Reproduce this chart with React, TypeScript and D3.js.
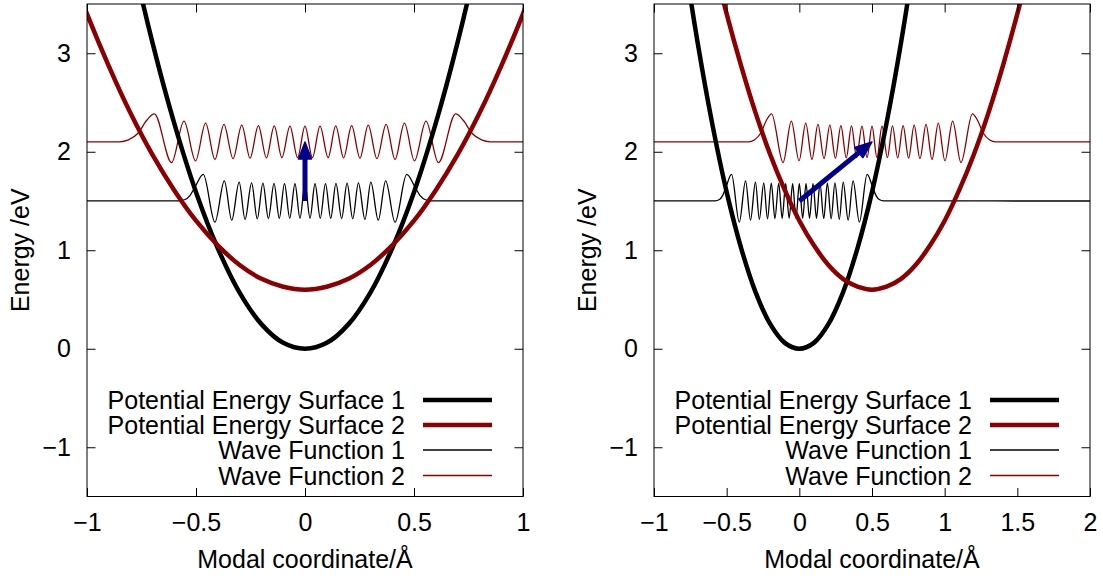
import React, { useEffect, useRef } from 'react'
import * as d3 from 'd3'

const W = 1103
const H = 578

// two panels side by side, same energy axis
const panelLeft = [87, 654]
const panelRight = [523, 1090]
const plotTop = 4
const plotBottom = 496.5
const xDomains = [
     [-1, 1],
     [-1, 2],
]
const xTicks = [
     [-1, -0.5, 0, 0.5, 1],
     [-1, -0.5, 0, 0.5, 1, 1.5, 2],
]
const yDomain = [-1.5, 3.5]
const yTicks = [-1, 0, 1, 2, 3]
// displacement of surface 2 (and its wave function) in each panel
const surface2Shift = [0, 0.5]

// potential energy surfaces, x relative to the minimum of each well
const pesX = [
     -1.1, -1.0, -0.9, -0.8, -0.7, -0.6, -0.5, -0.4, -0.3, -0.2, -0.1, 0, 0.1,
     0.2, 0.3, 0.4, 0.5, 0.6, 0.7, 0.8, 0.9, 1.0, 1.1,
]
const pes1E = [
     7.68, 6.35, 5.14, 4.06, 3.11, 2.29, 1.59, 1.02, 0.57, 0.25, 0.06, 0, 0.06,
     0.25, 0.57, 1.02, 1.59, 2.29, 3.11, 4.06, 5.14, 6.35, 7.68,
]
const pes2E = [
     3.99, 3.4, 2.87, 2.39, 1.97, 1.61, 1.3, 1.05, 0.85, 0.71, 0.63, 0.6, 0.63,
     0.71, 0.85, 1.05, 1.3, 1.61, 1.97, 2.39, 2.87, 3.4, 3.99,
]

// wave function 1: extrema and tails
const wave1X = [
     -2.1, -0.58, -0.55, -0.528, -0.505, -0.4665, -0.413, -0.37, -0.336, -0.302,
     -0.275, -0.245, -0.219, -0.193, -0.168, -0.142, -0.118, -0.094, -0.07,
     -0.046, -0.023, 0, 0.023, 0.046, 0.07, 0.094, 0.118, 0.142, 0.168, 0.193,
     0.219, 0.245, 0.275, 0.302, 0.336, 0.37, 0.413, 0.4665, 0.505, 0.528, 0.55,
     0.58, 2.1,
]
const wave1E = [
     1.5, 1.501, 1.515, 1.555, 1.64, 1.77, 1.285, 1.705, 1.305, 1.692, 1.314,
     1.685, 1.319, 1.681, 1.322, 1.678, 1.324, 1.676, 1.325, 1.675, 1.325, 1.675,
     1.325, 1.675, 1.325, 1.676, 1.324, 1.678, 1.322, 1.681, 1.319, 1.685, 1.314,
     1.692, 1.305, 1.705, 1.285, 1.77, 1.64, 1.555, 1.515, 1.501, 1.5,
]

// wave function 2, x relative to the minimum of surface 2
const wave2X = [
     -2.6, -0.85, -0.81, -0.765, -0.726, -0.691, -0.612, -0.555, -0.502, -0.456,
     -0.413, -0.372, -0.33, -0.29, -0.252, -0.214, -0.177, -0.141, -0.106,
     -0.069, -0.034, 0, 0.034, 0.069, 0.106, 0.141, 0.177, 0.214, 0.252, 0.29,
     0.33, 0.372, 0.413, 0.456, 0.502, 0.555, 0.612, 0.691, 0.726, 0.765, 0.81,
     0.85, 2.6,
]
const wave2E = [
     2.1, 2.101, 2.12, 2.19, 2.32, 2.385, 1.89, 2.31, 1.908, 2.29, 1.922, 2.278,
     1.93, 2.27, 1.935, 2.265, 1.938, 2.262, 1.94, 2.26, 1.94, 2.26, 1.94, 2.26,
     1.94, 2.262, 1.938, 2.265, 1.935, 2.27, 1.93, 2.278, 1.922, 2.29, 1.908,
     2.31, 1.89, 2.385, 2.32, 2.19, 2.12, 2.101, 2.1,
]

// excitation arrow in each panel
const arrowFrom = [
     [0, 1.5],
     [0, 1.5],
]
const arrowTo = [
     [0, 2.1],
     [0.5, 2.1],
]

const legendLabels = [
     'Potential Energy Surface 1',
     'Potential Energy Surface 2',
     'Wave Function 1',
     'Wave Function 2',
]
const legendRows = [400, 425, 450, 475.5]

const darkRed = '#8b0000'
const navy = '#00008b'
const thick = 4.5
const thin = 1.3
const font = "'Liberation Sans', Arial, Helvetica, sans-serif"
const fontSize = 25

const fmt = (v) => {
     const s = String(v)
     return v < 0 ? '\u2212' + s.slice(1) : s
}

const App = () => {
     const svgRef = useRef(null)

     useEffect(() => {
          const svg = d3.select(svgRef.current)
          svg.selectAll('*').remove()

          const y = d3.scaleLinear().domain(yDomain).range([plotBottom, plotTop])

          xDomains.forEach((dom, i) => {
               const x = d3
                    .scaleLinear()
                    .domain(dom)
                    .range([panelLeft[i], panelRight[i]])
               const shift = surface2Shift[i]
               const g = svg.append('g')

               const clipId = `clip-${i}`
               g.append('clipPath')
                    .attr('id', clipId)
                    .append('rect')
                    .attr('x', panelLeft[i])
                    .attr('y', plotTop)
                    .attr('width', panelRight[i] - panelLeft[i])
                    .attr('height', plotBottom - plotTop)

               const plot = g.append('g').attr('clip-path', `url(#${clipId})`)

               const series = [
                    { xs: wave1X, es: wave1E, dx: 0, color: '#000', w: thin, curve: d3.curveMonotoneX },
                    { xs: wave2X, es: wave2E, dx: shift, color: darkRed, w: thin, curve: d3.curveMonotoneX },
                    { xs: pesX, es: pes1E, dx: 0, color: '#000', w: thick, curve: d3.curveCatmullRom },
                    { xs: pesX, es: pes2E, dx: shift, color: darkRed, w: thick, curve: d3.curveCatmullRom },
               ]

               series.forEach((s) => {
                    const line = d3
                         .line()
                         .x((d, k) => x(s.xs[k] + s.dx))
                         .y((d, k) => y(s.es[k]))
                         .curve(s.curve)
                    plot.append('path')
                         .attr('d', line(s.xs))
                         .attr('fill', 'none')
                         .attr('stroke', s.color)
                         .attr('stroke-width', s.w)
                         .attr('stroke-linejoin', 'round')
               })

               // arrow
               const x0 = x(arrowFrom[i][0])
               const y0 = y(arrowFrom[i][1])
               const x1 = x(arrowTo[i][0])
               const y1 = y(arrowTo[i][1])
               const len = Math.hypot(x1 - x0, y1 - y0)
               const ux = (x1 - x0) / len
               const uy = (y1 - y0) / len
               const headLen = 17
               const headHalf = 6.5
               const bx = x1 - ux * headLen
               const by = y1 - uy * headLen
               plot.append('line')
                    .attr('x1', x0)
                    .attr('y1', y0)
                    .attr('x2', bx + ux * 2)
                    .attr('y2', by + uy * 2)
                    .attr('stroke', navy)
                    .attr('stroke-width', 5)
               plot.append('polygon')
                    .attr(
                         'points',
                         [
                              [x1, y1],
                              [bx - uy * headHalf, by + ux * headHalf],
                              [bx + uy * headHalf, by - ux * headHalf],
                         ]
                              .map((p) => p.join(','))
                              .join(' ')
                    )
                    .attr('fill', navy)
                    .attr('stroke', navy)
                    .attr('stroke-width', 1.5)
                    .attr('stroke-linejoin', 'round')

               // axes, gnuplot style ticks pointing inward on all sides
               const styleAxis = (a) => {
                    a.select('.domain').remove()
                    a.selectAll('line').attr('stroke', '#000')
                    a.attr('font-family', font).attr('font-size', fontSize)
                    a.selectAll('text').attr('fill', '#000')
               }
               g.append('g')
                    .attr('transform', `translate(0,${plotBottom})`)
                    .call(d3.axisBottom(x).tickValues(xTicks[i]).tickSize(-8.5).tickPadding(17).tickFormat(fmt))
                    .call(styleAxis)
               g.append('g')
                    .attr('transform', `translate(0,${plotTop})`)
                    .call(d3.axisTop(x).tickValues(xTicks[i]).tickSize(-8.5).tickFormat(() => ''))
                    .call(styleAxis)
               g.append('g')
                    .attr('transform', `translate(${panelLeft[i]},0)`)
                    .call(d3.axisLeft(y).tickValues(yTicks).tickSize(-8.5).tickPadding(16).tickFormat(fmt))
                    .call(styleAxis)
               g.append('g')
                    .attr('transform', `translate(${panelRight[i]},0)`)
                    .call(d3.axisRight(y).tickValues(yTicks).tickSize(-8.5).tickFormat(() => ''))
                    .call(styleAxis)

               g.append('rect')
                    .attr('x', panelLeft[i])
                    .attr('y', plotTop)
                    .attr('width', panelRight[i] - panelLeft[i])
                    .attr('height', plotBottom - plotTop)
                    .attr('fill', 'none')
                    .attr('stroke', '#000')
                    .attr('stroke-width', 1)

               // axis titles
               g.append('text')
                    .attr('x', (panelLeft[i] + panelRight[i]) / 2)
                    .attr('y', 568)
                    .attr('text-anchor', 'middle')
                    .style('font-family', font)
                    .style('font-size', fontSize + 'px')
                    .text('Modal coordinate/\u00c5')
               g.append('text')
                    .attr('transform', `translate(${panelLeft[i] - 58},${(plotTop + plotBottom) / 2}) rotate(-90)`)
                    .attr('text-anchor', 'middle')
                    .style('font-family', font)
                    .style('font-size', fontSize + 'px')
                    .text('Energy /eV')

               // legend
               const legendColors = ['#000', darkRed, '#000', darkRed]
               const legendWidths = [thick, thick, thin, thin]
               legendLabels.forEach((lab, k) => {
                    g.append('text')
                         .attr('x', panelRight[i] - 118)
                         .attr('y', legendRows[k] + 9)
                         .attr('text-anchor', 'end')
                         .style('font-family', font)
                         .style('font-size', fontSize + 'px')
                         .text(lab)
                    g.append('line')
                         .attr('x1', panelRight[i] - 100)
                         .attr('x2', panelRight[i] - 31)
                         .attr('y1', legendRows[k])
                         .attr('y2', legendRows[k])
                         .attr('stroke', legendColors[k])
                         .attr('stroke-width', legendWidths[k])
               })
          })
     }, [])

     return (
          <svg
               ref={svgRef}
               width={W}
               height={H}
               style={{ position: 'absolute', left: 0, top: 0, background: '#fff' }}
          ></svg>
     )
}

export default App
